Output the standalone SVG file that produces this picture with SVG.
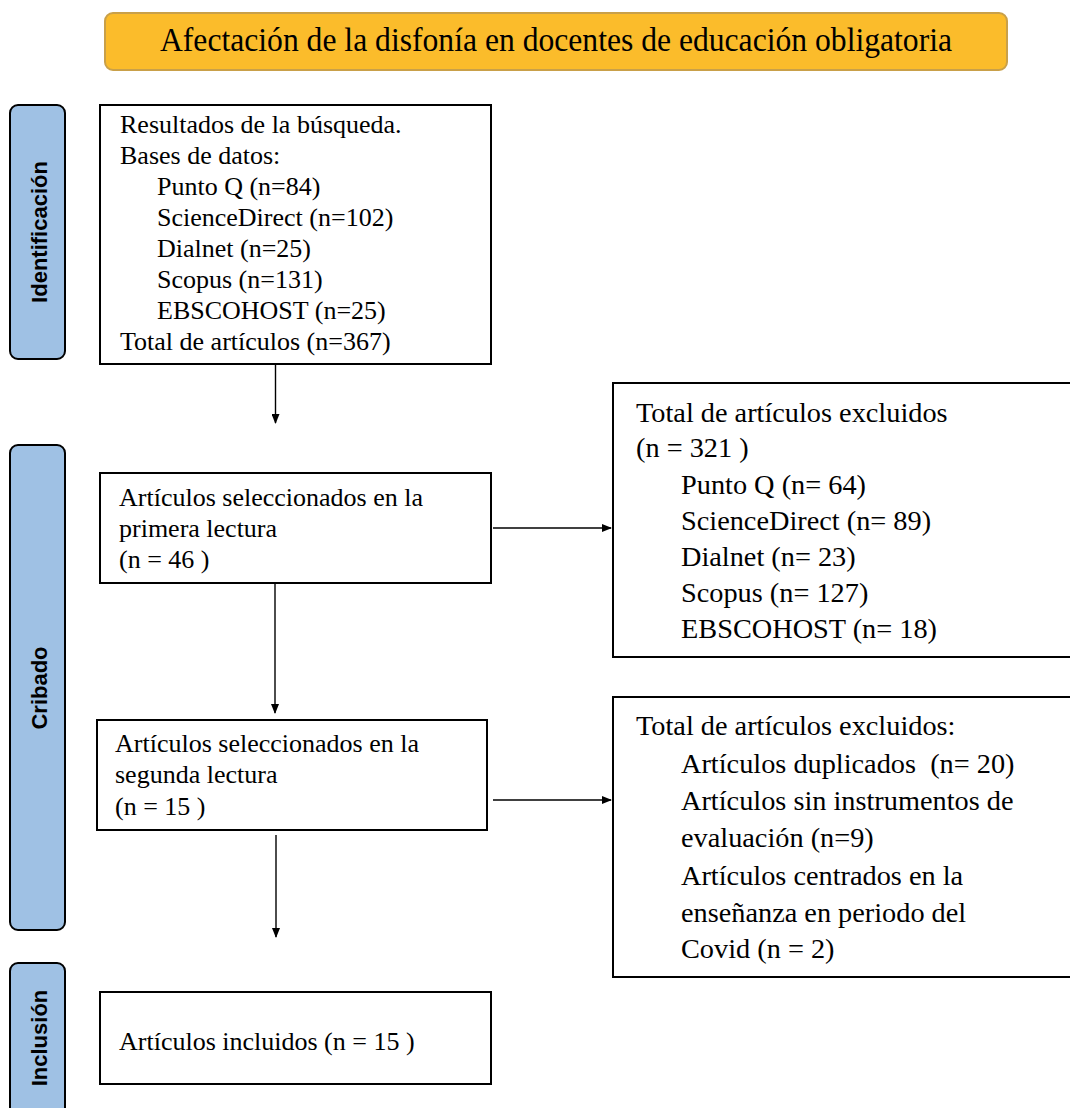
<svg xmlns="http://www.w3.org/2000/svg" width="1070" height="1108" viewBox="0 0 1070 1108">
  <style>
    .box { fill: #ffffff; stroke: #000000; stroke-width: 2; }
    .side { fill: #9fc1e4; stroke: #000000; stroke-width: 2; }
    .t26 { font-family: "Liberation Serif", "Times New Roman", "DejaVu Serif", serif; font-size: 26px; fill: #000000; }
    .t28 { font-family: "Liberation Serif", "Times New Roman", "DejaVu Serif", serif; font-size: 28.3px; fill: #000000; }
    .ttl { font-family: "Liberation Serif", "Times New Roman", "DejaVu Serif", serif; font-size: 34px; fill: #000000; }
    .lab { font-family: "Liberation Sans", Arial, sans-serif; font-size: 22px; font-weight: bold; fill: #000000; }
    .conn { stroke: #000000; stroke-width: 1.4; fill: none; marker-end: url(#arr); }
  </style>
  <defs>
    <marker id="arr" markerWidth="10" markerHeight="8" refX="9" refY="4" orient="auto" markerUnits="userSpaceOnUse">
      <path d="M0,0 L10,4 L0,8 z" fill="#000000"/>
    </marker>
  </defs>
  <rect width="1070" height="1108" fill="#ffffff"/>

  <g id="title">
    <rect x="105" y="13" width="902" height="57" rx="8" fill="#fbbc2b" stroke="#c9a049" stroke-width="2"/>
    <text class="ttl" x="160" y="51" textLength="792" lengthAdjust="spacingAndGlyphs">Afectación de la disfonía en docentes de educación obligatoria</text>
  </g>

  <g id="lane-identificacion">
    <rect class="side" x="10" y="105" width="55" height="254" rx="8"/>
    <text class="lab" transform="translate(46.5,232) rotate(-90)" text-anchor="middle">Identificación</text>
  </g>
  <g id="lane-cribado">
    <rect class="side" x="10" y="445" width="55" height="485" rx="8"/>
    <text class="lab" transform="translate(46.5,688) rotate(-90)" text-anchor="middle">Cribado</text>
  </g>
  <g id="lane-inclusion">
    <rect class="side" x="10" y="963" width="55" height="160" rx="8"/>
    <text class="lab" transform="translate(46.5,1038) rotate(-90)" text-anchor="middle">Inclusión</text>
  </g>

  <g id="search-results">
    <rect class="box" x="100" y="105" width="391" height="259"/>
    <text class="t26" x="120" y="133">Resultados de la búsqueda.</text>
    <text class="t26" x="120" y="164">Bases de datos:</text>
    <text class="t26" x="157" y="195">Punto Q (n=84)</text>
    <text class="t26" x="157" y="226">ScienceDirect (n=102)</text>
    <text class="t26" x="157" y="257">Dialnet (n=25)</text>
    <text class="t26" x="157" y="288">Scopus (n=131)</text>
    <text class="t26" x="157" y="319">EBSCOHOST (n=25)</text>
    <text class="t26" x="120" y="350">Total de artículos (n=367)</text>
  </g>

  <g id="first-reading">
    <rect class="box" x="100" y="473" width="391" height="110"/>
    <text class="t26" x="119" y="506">Artículos seleccionados en la</text>
    <text class="t26" x="119" y="537">primera lectura</text>
    <text class="t26" x="119" y="568">(n = 46 )</text>
  </g>

  <g id="second-reading">
    <rect class="box" x="97" y="720" width="390" height="110"/>
    <text class="t26" x="115" y="752">Artículos seleccionados en la</text>
    <text class="t26" x="115" y="783">segunda lectura</text>
    <text class="t26" x="115" y="815">(n = 15 )</text>
  </g>

  <g id="included">
    <rect class="box" x="100" y="992" width="391" height="92"/>
    <text class="t26" x="119" y="1050">Artículos incluidos (n = 15 )</text>
  </g>

  <g id="excluded-first">
    <rect class="box" x="613" y="383" width="470" height="274"/>
    <text class="t28" x="636" y="422">Total de artículos excluidos</text>
    <text class="t28" x="636" y="457">(n = 321 )</text>
    <text class="t28" x="681" y="494">Punto Q (n= 64)</text>
    <text class="t28" x="681" y="530">ScienceDirect (n= 89)</text>
    <text class="t28" x="681" y="566">Dialnet (n= 23)</text>
    <text class="t28" x="681" y="602">Scopus (n= 127)</text>
    <text class="t28" x="681" y="638">EBSCOHOST (n= 18)</text>
  </g>

  <g id="excluded-second">
    <rect class="box" x="613" y="697" width="470" height="280"/>
    <text class="t28" x="636" y="735">Total de artículos excluidos:</text>
    <text class="t28" x="681" y="773" xml:space="preserve">Artículos duplicados  (n= 20)</text>
    <text class="t28" x="681" y="810">Artículos sin instrumentos de</text>
    <text class="t28" x="681" y="847">evaluación (n=9)</text>
    <text class="t28" x="681" y="885">Artículos centrados en la</text>
    <text class="t28" x="681" y="922">enseñanza en periodo del</text>
    <text class="t28" x="681" y="958">Covid (n = 2)</text>
  </g>

  <g id="connectors">
    <line class="conn" x1="275.5" y1="365" x2="275.5" y2="423"/>
    <line class="conn" x1="275" y1="584" x2="275" y2="713"/>
    <line class="conn" x1="276" y1="835" x2="276" y2="937"/>
    <line class="conn" x1="493" y1="528" x2="611" y2="528"/>
    <line class="conn" x1="493" y1="800" x2="611" y2="800"/>
  </g>
</svg>
